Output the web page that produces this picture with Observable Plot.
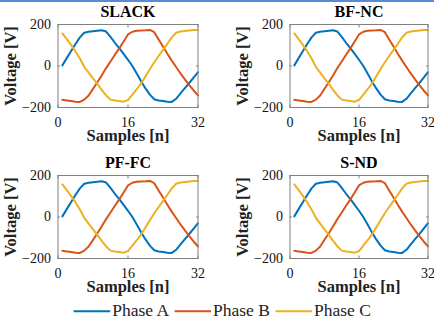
<!DOCTYPE html>
<html><head><meta charset="utf-8">
<script src="https://cdn.jsdelivr.net/npm/d3@7"></script>
<script src="https://cdn.jsdelivr.net/npm/@observablehq/plot@0.6"></script>
<style>
body{margin:0;background:#fff;}
#root{position:relative;width:434px;height:323px;overflow:hidden;font-family:"Liberation Serif","Times New Roman",serif;background:#fff;}
#topbar{position:absolute;left:0;top:0;width:434px;height:2px;background:#5a8ad6;}
.panel{position:absolute;}
.panel svg text{font-family:"Liberation Serif","Times New Roman",serif !important;font-variant-numeric:normal !important;}
</style></head><body><div id="root"><div id="topbar"></div></div>
<script>
const samples = [1,2,3,4,5,6,7,8,9,10,11,12,13,14,15,16,17,18,19,20,21,22,23,24,25,26,27,28,29,30,31,32];
const phaseA = [3,38,72,106,138,160,165,168,170,172,166,140,112,86,58,30,0,-36,-74,-108,-138,-160,-166,-169,-172,-173,-158,-132,-107,-82,-56,-30];
const phaseB = [-163,-166,-169,-172,-173,-162,-142,-110,-78,-45,-10,22,54,85,118,152,165,170,171,172,174,163,128,94,59,26,-5,-36,-64,-92,-118,-142];
const phaseC = [157,130,102,70,36,-4,-32,-60,-86,-115,-142,-162,-166,-169,-172,-164,-138,-112,-84,-50,-16,18,48,78,107,138,160,166,169,171,173,174];
const panelTitles = ["SLACK","BF-NC","PF-FC","S-ND"];
const xTicks = [0,16,32];
const yTicks = [-200,0,200];
const seriesNames = ["Phase A","Phase B","Phase C"];
const seriesColors = ["#0072BD","#D95319","#EDB120"];
const xLabel = "Samples [n]";
const yLabel = "Voltage [V]";

const allSeries = [phaseA, phaseB, phaseC];
const data = [];
seriesNames.forEach((s, i) => samples.forEach((n, j) => data.push({n, v: allSeries[i][j], s})));

const layout = [
  {left: 0, top: 0, ml: 57.5, mr: 19.5},
  {left: 217, top: 0, ml: 72.5, mr: 6.5},
  {left: 0, top: 151, ml: 57.5, mr: 19.5},
  {left: 217, top: 151, ml: 72.5, mr: 6.5}
];
const boxColor = "#808080";
const font = "Liberation Serif";
const tk = 2.5;

function panel(title, ml, mr) {
  return Plot.plot({
    width: 217, height: 150,
    marginLeft: ml, marginRight: mr, marginTop: 24, marginBottom: 43,
    style: {fontFamily: font, fontSize: "14px", color: "#111", background: "transparent", overflow: "visible"},
    x: {domain: [0, 32]},
    y: {domain: [-200, 200]},
    color: {domain: seriesNames, range: seriesColors},
    marks: [
      Plot.line(data, {x: "n", y: "v", stroke: "s", z: "s", strokeWidth: 2, strokeLinejoin: "round"}),
      Plot.frame({stroke: boxColor, strokeWidth: 1}),
      Plot.axisX(xTicks, {anchor: "bottom", tickSize: 0, tickPadding: 9.5, label: null, fontSize: 14, fontFamily: font}),
      Plot.axisY(yTicks, {anchor: "left", tickSize: 0, tickPadding: 7, label: null, fontSize: 14, fontFamily: font}),
      Plot.axisX(xTicks, {anchor: "bottom", tickSize: tk, dy: -tk, tickFormat: () => "", label: null, stroke: boxColor}),
      Plot.axisX(xTicks, {anchor: "top", tickSize: tk, dy: tk, tickFormat: () => "", label: null, stroke: boxColor}),
      Plot.axisY(yTicks, {anchor: "left", tickSize: tk, dx: tk, tickFormat: () => "", label: null, stroke: boxColor}),
      Plot.axisY(yTicks, {anchor: "right", tickSize: tk, dx: -tk, tickFormat: () => "", label: null, stroke: boxColor}),
      Plot.text([title], {text: d => d, frameAnchor: "top", dy: -7.5, lineAnchor: "bottom", fontWeight: "bold", fontSize: 16, fill: "#000", fontFamily: font}),
      Plot.text([xLabel], {text: d => d, frameAnchor: "bottom", dy: 33.5, lineAnchor: "bottom", fontWeight: "bold", fontSize: 16.5, fill: "#222", fontFamily: font}),
      Plot.text([yLabel], {text: d => d, frameAnchor: "left", dx: -41.7, rotate: -90, lineAnchor: "bottom", textAnchor: "middle", fontWeight: "bold", fontSize: 16.5, fill: "#222", fontFamily: font})
    ]
  });
}

const root = document.getElementById("root");
panelTitles.forEach((t, i) => {
  const L = layout[i];
  const div = document.createElement("div");
  div.className = "panel";
  div.style.left = L.left + "px";
  div.style.top = L.top + "px";
  div.appendChild(panel(t, L.ml, L.mr));
  root.appendChild(div);
});

// legend
const leg = d3.select(root).append("svg")
  .attr("width", 434).attr("height", 28)
  .style("position", "absolute").style("left", "0px").style("top", "295px");
let x = 73.7;
seriesNames.forEach((s, i) => {
  leg.append("line").attr("x1", x).attr("x2", x + 36.5).attr("y1", 16.3).attr("y2", 16.3)
    .attr("stroke", seriesColors[i]).attr("stroke-width", 2);
  const t = leg.append("text").attr("x", x + 38.5).attr("y", 20.5)
    .attr("font-family", font).attr("font-size", 17.5).attr("fill", "#222").text(s);
  x = x + 38.5 + t.node().getComputedTextLength() + 5.5;
});
</script></body></html>
